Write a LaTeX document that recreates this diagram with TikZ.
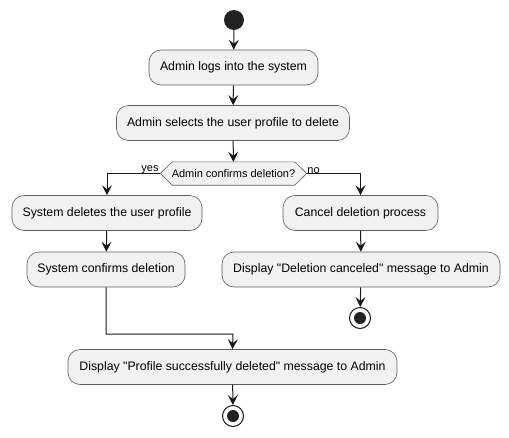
\documentclass[tikz,border=0pt]{standalone}
\usepackage{fontspec}
\setmainfont{Liberation Sans}
\usetikzlibrary{arrows.meta,backgrounds}
\definecolor{boxfill}{HTML}{F1F1F1}
\definecolor{ink}{HTML}{181818}
\definecolor{dot}{HTML}{222222}
\tikzset{
  act/.style={draw=ink!70, line width=0.6pt, fill=boxfill, rounded corners=12pt,
    minimum height=35pt, inner sep=0pt, font=\fontsize{12.3}{14}\selectfont},
  arr/.style={draw=ink, line width=1pt, -{Stealth[length=10pt,width=10pt,inset=4pt]}},
  lbl/.style={font=\fontsize{11}{13}\selectfont, inner sep=0.5pt},
  startdot/.style={circle, fill=dot, minimum size=20pt, inner sep=0pt},
  enddot/.style={circle, draw=ink, line width=1pt, fill=white, minimum size=21pt, inner sep=0pt,
    path picture={\fill[dot] (path picture bounding box.center) circle (6pt);}},
}
\begin{document}
\begin{tikzpicture}[x=1pt,y=-1pt]
\useasboundingbox (0,0) rectangle (509,437);
\node[startdot] (start) at (234,20) {};
\node[act, minimum width=169pt] (b1) at (233.5,67.5) {Admin logs into the system};
\node[act, minimum width=233pt] (b2) at (233,123) {Admin selects the user profile to delete};
\node[inner sep=0pt, minimum width=146pt, minimum height=23pt, font=\fontsize{11}{13}\selectfont] (dec) at (233.5,173.5) {Admin confirms deletion?};
\begin{scope}[on background layer]
\draw[draw=ink!70, line width=0.6pt, fill=boxfill] (dec.west) -- ([xshift=12pt]dec.north west) -- ([xshift=-12pt]dec.north east) -- (dec.east) -- ([xshift=-12pt]dec.south east) -- ([xshift=12pt]dec.south west) -- cycle;
\end{scope}
\node[act, minimum width=190pt] (b3) at (107,213) {System deletes the user profile};
\node[act, minimum width=155pt] (b4) at (360.5,213) {Cancel deletion process};
\node[act, minimum width=158pt] (b5) at (106,269.5) {System confirms deletion};
\node[act, minimum width=278pt] (b6) at (361,269.5) {Display \textquotedbl Deletion canceled\textquotedbl{} message to Admin};
\node[enddot] (e1) at (360,318) {};
\node[act, minimum width=329pt] (b7) at (232.5,367) {Display \textquotedbl Profile successfully deleted\textquotedbl{} message to Admin};
\node[enddot] (e2) at (233,416) {};
\coordinate (j) at (233,334);

\draw[arr] (start) -- (b1);
\draw[arr] (b1) -- (b2);
\draw[arr] (b2) -- (dec);
\draw[arr] (dec.west) -| (b3.north);
\draw[arr] (dec.east) -| (b4.north);
\node[lbl, anchor=south east] (yes) at ([shift={(-1pt,-0.5pt)}]dec.west) {yes};
\node[lbl, anchor=south west] (no) at ([shift={(0pt,-0.5pt)}]dec.east) {no};
\draw[arr] (b3) -- (b5);
\draw[arr] (b4) -- (b6);
\draw[arr] (b6) -- (e1);
\draw[arr] (b5.south) |- (j) -- (b7.north);
\draw[arr] (b7) -- (e2);
\end{tikzpicture}
\end{document}
